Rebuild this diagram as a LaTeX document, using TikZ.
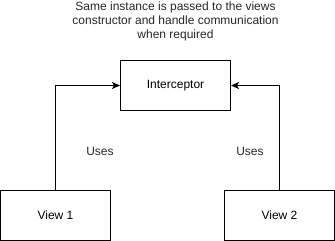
\documentclass[tikz,border=0pt]{standalone}
\usepackage{fontspec}
\setmainfont{Liberation Sans}
\usetikzlibrary{arrows.meta}
\begin{document}
\begin{tikzpicture}[x=1pt,y=1pt,
  box/.style={draw=black,line width=1pt,minimum width=110pt,minimum height=50pt,inner sep=0pt,font=\fontsize{12pt}{14pt}\selectfont},
  lbl/.style={inner sep=0pt,font=\fontsize{12pt}{14pt}\selectfont,text=black!85},
  conn/.style={draw=black,line width=1pt,-{Stealth[length=8pt,width=7pt,inset=2pt]}}]
\useasboundingbox (0,0) rectangle (335,-241);
\node[box] (int) at (175.5,-85.5) {Interceptor};
\node[box] (v1) at (55.5,-215.5) {View 1};
\node[box] (v2) at (279.5,-215.5) {View 2};
\node[lbl,align=center] (title) at (175.5,-21) {Same instance is passed to the views\\constructor and handle communication\\when required};
\draw[conn] (v1.north) |- (int.west);
\draw[conn] (v2.north) |- (int.east);
\node[lbl] (u1) at (100,-151) {Uses};
\node[lbl] (u2) at (250,-151) {Uses};
\end{tikzpicture}
\end{document}
